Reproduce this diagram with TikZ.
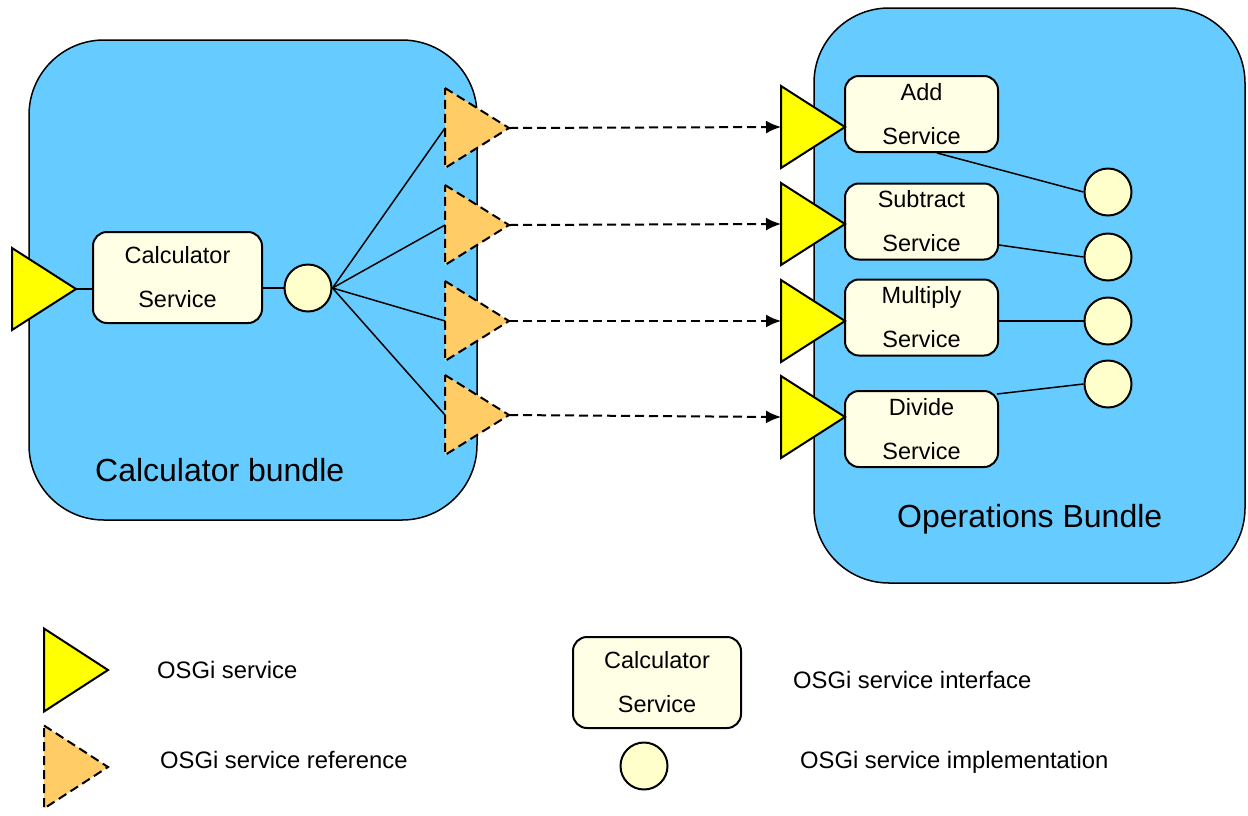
\documentclass[tikz,border=0pt]{standalone}
\usepackage{fontspec}
\setmainfont{Liberation Sans}
\usetikzlibrary{arrows.meta,calc}
\definecolor{bundlefill}{HTML}{66CCFF}
\definecolor{svcyellow}{HTML}{FFFF00}
\definecolor{reffill}{HTML}{FFCC66}
\definecolor{boxfill}{HTML}{FFFFE6}
\definecolor{implfill}{HTML}{FFFFCC}
\newcommand{\mytri}[5]{% style, name, left x, centre y, half height
  \draw[#1] (#3,#4-#5) -- (#3+64,#4) -- (#3,#4+#5) -- cycle;
  \coordinate (#2w) at (#3,#4);
  \coordinate (#2e) at (#3+64,#4);}
\begin{document}
\begin{tikzpicture}[x=1pt,y=-1pt,
  bundlebox/.style={draw=black, line width=1.5pt, fill=bundlefill, rounded corners=75pt, inner sep=0pt},
  svcbox/.style={draw=black, line width=2pt, fill=boxfill, rounded corners=14pt, inner sep=0pt,
    minimum width=153pt, minimum height=76pt, align=center, font=\fontsize{23.5}{44}\selectfont},
  impl/.style={circle, draw=black, line width=2pt, fill=implfill, minimum size=47pt, inner sep=0pt},
  svctri/.style={draw=black, line width=2pt, fill=svcyellow, line join=miter},
  reftri/.style={draw=black, line width=2pt, fill=reffill, dash pattern=on 9pt off 5pt},
  conn/.style={draw=black, line width=1.5pt},
  dep/.style={draw=black, line width=2pt, dash pattern=on 9pt off 5pt, -{Latex[length=15pt,width=13pt]}},
  lbl/.style={anchor=west, inner sep=0pt, font=\fontsize{23.8}{28}\selectfont},
  bundlelbl/.style={anchor=west, inner sep=0pt, font=\fontsize{32}{38}\selectfont}]
\useasboundingbox (0,0) rectangle (1248,815);

% bundles
\node[bundlebox, minimum width=448pt, minimum height=480pt] (calcb) at (253,280) {};
\node[bundlebox, minimum width=431pt, minimum height=575pt] (opsb) at (1029.5,295.5) {};
\node[bundlelbl] (calcblbl) at (95,470) {Calculator bundle};
\node[bundlelbl] (opsblbl) at (897,519) {Operations Bundle};

% calculator side
\node[svcbox, minimum width=169pt, minimum height=91pt] (calcsvc) at (177.5,277.5) {Calculator\\Service};
\node[impl] (calcimpl) at (308,288) {};
\mytri{svctri}{main}{12}{289}{41}
\draw[conn] (maine) -- (maine -| calcsvc.west);
\draw[conn] (calcsvc.east |- calcimpl) -- (calcimpl.west);

% references
\mytri{reftri}{ra}{445}{128}{40}
\mytri{reftri}{rb}{445}{225}{40}
\mytri{reftri}{rc}{445}{321}{40}
\mytri{reftri}{rd}{445}{415}{40}
\foreach \r in {ra,rb,rc,rd}{\draw[conn] (calcimpl.east) -- (\r w);}

% operations side
\node[svcbox] (add) at (921.5,114) {Add\\Service};
\node[svcbox] (sub) at (921.5,221.5) {Subtract\\Service};
\node[svcbox] (mul) at (921.5,317.5) {Multiply\\Service};
\node[svcbox] (div) at (921.5,429) {Divide\\Service};
\node[impl] (iadd) at (1108,192) {};
\node[impl] (isub) at (1108,257) {};
\node[impl] (imul) at (1108,321) {};
\node[impl] (idiv) at (1108,384) {};
\draw[conn] ($(add.south west)!0.6!(add.south east)$) -- (iadd.west);
\draw[conn] ($(sub.east)+(0,23.5)$) -- (isub.west);
\draw[conn] (mul.east |- imul) -- (imul.west);
\draw[conn] ($(div.north east)+(-2,4)$) -- (idiv.west);
\mytri{svctri}{sa}{781}{127}{41}
\mytri{svctri}{sb}{781}{224}{41}
\mytri{svctri}{sc}{781}{321}{41}
\mytri{svctri}{sd}{781}{417}{41}

% dependencies
\draw[dep] (rae) -- (saw);
\draw[dep] (rbe) -- (sbw);
\draw[dep] (rce) -- (scw);
\draw[dep] (rde) -- (sdw);

% legend
\mytri{svctri}{lga}{44}{670}{41.5}
\mytri{reftri}{lgb}{44}{767}{41.5}
\node[lbl] (lgatext) at (157,670) {OSGi service};
\node[lbl] (lgbtext) at (160,760) {OSGi service reference};
\node[svcbox, minimum width=168pt, minimum height=91pt] (lgbox) at (657,682.5) {Calculator\\Service};
\node[impl] (lgimpl) at (644,766) {};
\node[lbl] (lgctext) at (793,680) {OSGi service interface};
\node[lbl] (lgdtext) at (800,762) {OSGi service implementation};
\end{tikzpicture}
\end{document}
